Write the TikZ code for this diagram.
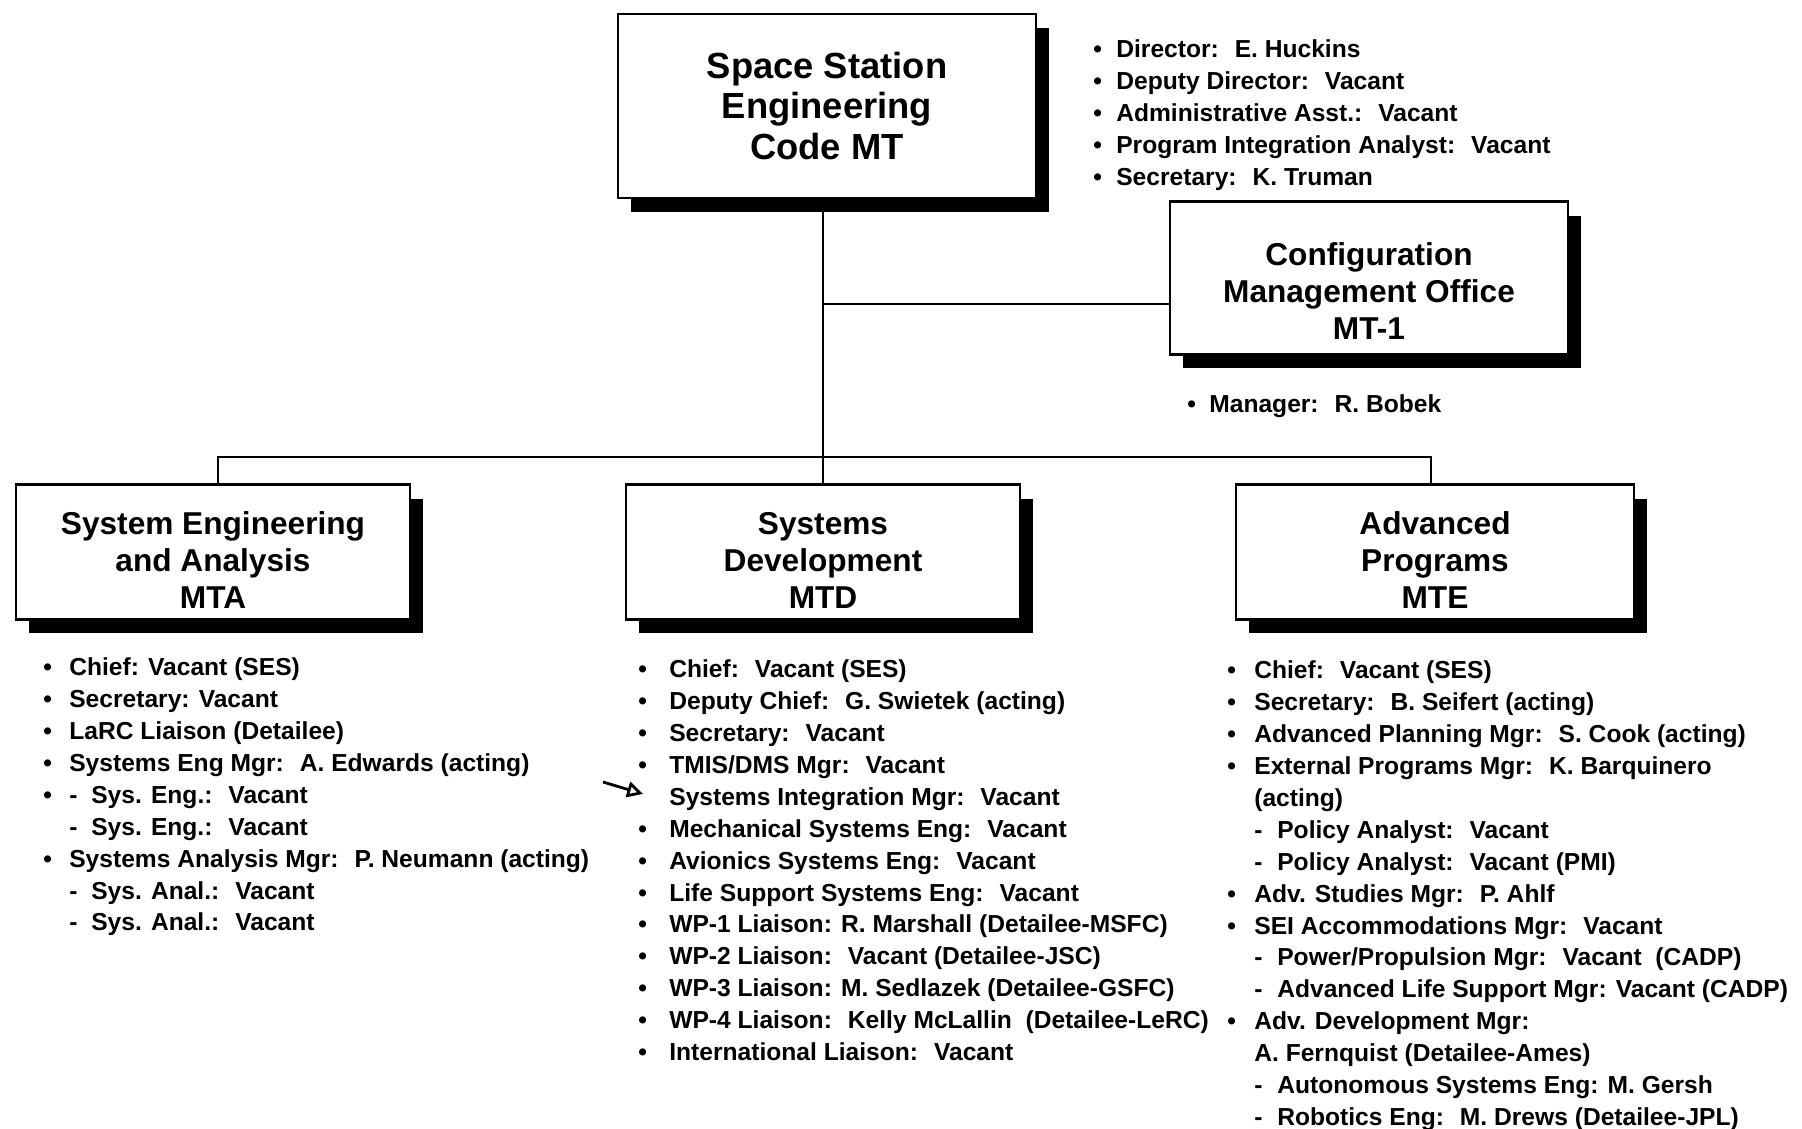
\documentclass[tikz,border=0pt]{standalone}
\usepackage{fontspec}
\setmainfont{Liberation Sans}
\usetikzlibrary{positioning,shadows,arrows.meta}
\newlength{\bulw}
\newlength{\dashw}
\newcommand{\bul}{\makebox[\bulw][l]{\textbullet}}
\newcommand{\nobul}{\hspace*{\bulw}}
\newcommand{\dsh}{\makebox[\dashw][l]{-}}
\newcommand{\tshift}[1]{\rule{0pt}{#1}}
\tikzset{
    orgbox/.style={draw=black, fill=white, line width=1.6pt, align=center,
        font=\bfseries\fontsize{18}{21}\selectfont, inner sep=0pt,
        minimum width=7.88cm, minimum height=2.7cm,
        drop shadow={shadow xshift=0.26cm, shadow yshift=-0.28cm, fill=black, opacity=1}},
    topbox/.style={orgbox, font=\bfseries\fontsize{20.7}{22.8}\selectfont},
    staff/.style={anchor=north west, align=left, inner sep=0pt,
        font=\bfseries\fontsize{14}{18.2}\selectfont},
    bullet width/.code={\global\bulw=#1\relax},
    dash width/.code={\global\dashw=#1\relax},
    link/.style={draw=black, line width=1.2pt},
}

\begin{document}
\begin{tikzpicture}[x=0.02cm, y=-0.02cm]
    \useasboundingbox[fill=white] (0,0) rectangle (1802,1129);
    % boxes
    \node[topbox, minimum width=8.36cm, minimum height=3.68cm] (mt) at (827,106)
        {Space Station\\Engineering\\Code MT};
    \node[orgbox, minimum width=7.96cm, minimum height=3.06cm,
        font=\bfseries\fontsize{18}{20.9}\selectfont] (cmo) at (1369,278)
        {\tshift{28pt}Configuration\\Management Office\\MT-1};
    \node[orgbox] (mta) at (213,552) {\tshift{22pt}System Engineering\\and Analysis\\MTA};
    \node[orgbox] (mtd) at (823,552) {\tshift{22pt}Systems\\Development\\MTD};
    \node[orgbox, minimum width=7.96cm] (mte) at (1435,552) {\tshift{22pt}Advanced\\Programs\\MTE};
    % links
    \coordinate (busl) at (218,457);
    \coordinate (busr) at (1431,457);
    \coordinate (cmojoin) at ([yshift=-0.52cm]cmo.west);
    \draw[link] (mtd.north |- mt.south) -- (mtd.north);
    \draw[link] (mtd.north |- cmojoin) -- (cmojoin);
    \draw[link] (busl |- mta.north) -- (busl) -- (busr) -- (busr |- mte.north);
    % staff
    \node[staff, bullet width=0.46cm] (mtstaff) at (1093,39) {%
        \bul Director:~ E. Huckins\\
        \bul Deputy Director:~ Vacant\\
        \bul Administrative Asst.:~ Vacant\\
        \bul Program Integration Analyst:~ Vacant\\
        \bul Secretary:~ K. Truman};
    \node[staff, bullet width=0.44cm] (cmostaff) at (1187,394) {%
        \bul Manager:~ R. Bobek};
    \node[staff, bullet width=0.52cm, dash width=0.44cm] (mtastaff) at (43,657) {%
        \bul Chief: Vacant (SES)\\
        \bul Secretary: Vacant\\
        \bul LaRC Liaison (Detailee)\\
        \bul Systems Eng Mgr:~ A. Edwards (acting)\\
        \bul\dsh Sys. Eng.:~ Vacant\\
        \nobul\dsh Sys. Eng.:~ Vacant\\
        \bul Systems Analysis Mgr:~ P. Neumann (acting)\\
        \nobul\dsh Sys. Anal.:~ Vacant\\
        \nobul\dsh Sys. Anal.:~ Vacant};
    \node[staff, bullet width=0.62cm] (mtdstaff) at (638,659) {%
        \bul Chief:~ Vacant (SES)\\
        \bul Deputy Chief:~ G. Swietek (acting)\\
        \bul Secretary:~ Vacant\\
        \bul TMIS/DMS Mgr:~ Vacant\\
        \nobul Systems Integration Mgr:~ Vacant\\
        \bul Mechanical Systems Eng:~ Vacant\\
        \bul Avionics Systems Eng:~ Vacant\\
        \bul Life Support Systems Eng:~ Vacant\\
        \bul WP-1 Liaison: R. Marshall (Detailee-MSFC)\\
        \bul WP-2 Liaison:~ Vacant (Detailee-JSC)\\
        \bul WP-3 Liaison: M. Sedlazek (Detailee-GSFC)\\
        \bul WP-4 Liaison:~ Kelly McLallin~ (Detailee-LeRC)\\
        \bul International Liaison:~ Vacant};
    \node[staff, bullet width=0.54cm, dash width=0.46cm] (mtestaff) at (1227,660) {%
        \bul Chief:~ Vacant (SES)\\
        \bul Secretary:~ B. Seifert (acting)\\
        \bul Advanced Planning Mgr:~ S. Cook (acting)\\
        \bul External Programs Mgr:~ K. Barquinero\\
        \nobul (acting)\\
        \nobul\dsh Policy Analyst:~ Vacant\\
        \nobul\dsh Policy Analyst:~ Vacant (PMI)\\
        \bul Adv. Studies Mgr:~ P. Ahlf\\
        \bul SEI Accommodations Mgr:~ Vacant\\
        \nobul\dsh Power/Propulsion Mgr:~ Vacant~ (CADP)\\
        \nobul\dsh Advanced Life Support Mgr: Vacant (CADP)\\
        \bul Adv. Development Mgr:\\
        \nobul A. Fernquist (Detailee-Ames)\\
        \nobul\dsh Autonomous Systems Eng: M. Gersh\\
        \nobul\dsh Robotics Eng:~ M. Drews (Detailee-JPL)};
    % hand mark
    \coordinate (marktail) at (603,782);
    \coordinate (markhead) at (643,794);
    \draw[line width=1.6pt, -{Triangle[open, length=9pt, width=9pt]}] (marktail) -- (markhead);
\end{tikzpicture}
\end{document}
